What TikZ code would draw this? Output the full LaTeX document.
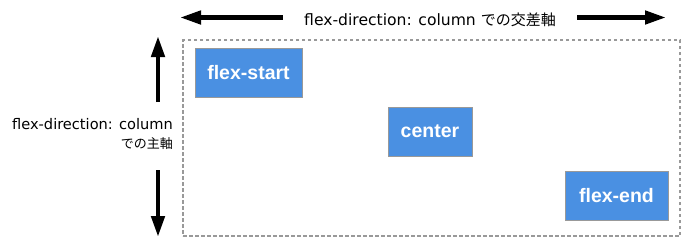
\documentclass[tikz,border=0pt]{standalone}
\usepackage{fontspec}
\setmainfont{DejaVu Sans}
\newfontfamily\boxfont{Liberation Sans}
\newfontfamily\jpfont{Noto Sans CJK JP}
\usetikzlibrary{arrows.meta}
\definecolor{itemblue}{HTML}{4A90E2}
\definecolor{edgegray}{HTML}{999999}
\begin{document}
\begin{tikzpicture}[
  x=1pt, y=-1pt,
  item/.style={draw=edgegray, line width=1pt, fill=itemblue, text=white,
    minimum height=49pt, inner sep=0pt, font=\boxfont\bfseries\fontsize{19.5}{22}\selectfont},
  container/.style={draw=edgegray, line width=1.6pt, dash pattern=on 3.5pt off 2.5pt,
    minimum width=497pt, minimum height=196pt},
  axis/.style={line width=4.5pt, -{Triangle[length=21pt,width=13pt]}},
  lab/.style={inner sep=0pt}
]
\useasboundingbox (0,0) rectangle (687,239);
% container
\node[container] (box) at (431.5,138) {};
% items
\node[item, minimum width=107pt] (start) at (248.5,72.5) {flex-start};
\node[item, minimum width=84pt] (center) at (430,131.5) {center};
\node[item, minimum width=103pt] (end) at (616.5,195.5) {flex-end};
% cross axis
\node[lab, inner xsep=21pt, anchor=base, font=\fontsize{15.6}{18}\selectfont] (cross) at (430,25)
  {flex-direction: column {\jpfont\fontsize{15}{18}\selectfont での交差軸}};
\coordinate (crossL) at (180,17.5);
\coordinate (crossR) at (666,17.5);
\draw[axis] (cross.west |- crossL) -- (crossL);
\draw[axis] (cross.east |- crossR) -- (crossR);
% main axis
\node[lab, anchor=east, align=right, font=\fontsize{14.6}{19}\selectfont] (main) at (173,134)
  {flex-direction: column\\{\jpfont\fontsize{13}{19}\selectfont での主軸}};
\coordinate (mainT1) at (158,102);
\coordinate (mainT2) at (158,36);
\coordinate (mainB1) at (158,170);
\coordinate (mainB2) at (158,237);
\draw[axis] (mainT1) -- (mainT2);
\draw[axis] (mainB1) -- (mainB2);
\end{tikzpicture}
\end{document}
